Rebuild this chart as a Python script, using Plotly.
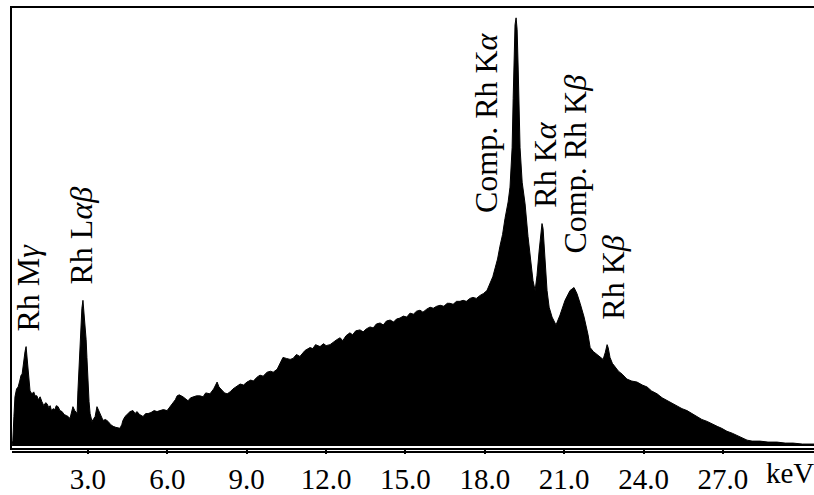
import plotly.graph_objects as go

# Energy (keV) and counts (arbitrary units)
energy_kev = [
    0.13, 0.16, 0.20, 0.24, 0.30, 0.36, 0.42, 0.47, 0.51, 0.56, 0.62, 0.66, 0.70, 0.73, 0.77,
    0.81, 0.88, 0.95, 1.00, 1.07, 1.12, 1.19, 1.26, 1.33, 1.40, 1.45, 1.52, 1.57, 1.62, 1.68,
    1.75, 1.80, 1.87, 1.94, 2.02, 2.10, 2.18, 2.25, 2.32, 2.38, 2.43, 2.50, 2.59, 2.62, 2.70,
    2.77, 2.81, 2.85, 2.89, 2.93, 2.96, 3.00, 3.04, 3.08, 3.15, 3.22, 3.27, 3.34, 3.40, 3.46,
    3.52, 3.57, 3.66, 3.76, 3.85, 3.95, 4.05, 4.14, 4.21, 4.28, 4.32, 4.40, 4.50, 4.59, 4.70,
    4.78, 4.85, 4.95, 5.08, 5.18, 5.27, 5.38, 5.50, 5.61, 5.72, 5.85, 5.99, 6.10, 6.21, 6.30,
    6.37, 6.45, 6.59, 6.70, 6.78, 6.88, 6.97, 7.10, 7.23, 7.35, 7.45, 7.61, 7.75, 7.88, 7.95,
    8.07, 8.16, 8.26, 8.37, 8.48, 8.60, 8.75, 8.88, 9.01, 9.15, 9.25, 9.39, 9.50, 9.62, 9.77,
    9.90, 10.00, 10.15, 10.25, 10.37, 10.50, 10.64, 10.75, 10.88, 11.01, 11.10, 11.20, 11.39, 11.50, 11.60,
    11.77, 11.90, 12.00, 12.15, 12.28, 12.40, 12.53, 12.63, 12.75, 12.90, 13.00, 13.12, 13.28, 13.40, 13.52,
    13.66, 13.78, 13.90, 14.04, 14.16, 14.28, 14.42, 14.55, 14.66, 14.79, 14.92, 15.05, 15.17, 15.30, 15.42,
    15.55, 15.66, 15.80, 15.93, 16.05, 16.18, 16.31, 16.45, 16.58, 16.68, 16.80, 16.93, 17.06, 17.18, 17.30,
    17.44, 17.55, 17.68, 17.82, 17.95, 18.08, 18.20, 18.30, 18.39, 18.48, 18.57, 18.67, 18.76, 18.88, 18.95,
    19.03, 19.07, 19.10, 19.14, 19.18, 19.22, 19.26, 19.29, 19.33, 19.41, 19.52, 19.63, 19.71, 19.82, 19.90,
    19.97, 20.05, 20.12, 20.16, 20.20, 20.28, 20.35, 20.43, 20.54, 20.69, 20.84, 21.03, 21.22, 21.37, 21.48,
    21.60, 21.75, 21.90, 21.98, 22.10, 22.24, 22.35, 22.47, 22.55, 22.62, 22.66, 22.73, 22.82, 22.92, 23.05,
    23.19, 23.28, 23.37, 23.55, 23.75, 23.95, 24.13, 24.30, 24.51, 24.70, 24.89, 25.05, 25.26, 25.45, 25.64,
    25.82, 26.02, 26.20, 26.40, 26.60, 26.78, 26.95, 27.15, 27.35, 27.53, 27.70, 27.91, 28.10, 28.40, 28.70,
    29.04, 29.35, 29.65, 30.00, 30.29, 30.44,
]
counts = [
    0, 6, 30, 50, 58, 60, 66, 72, 73, 85, 96, 101, 88, 73, 62,
    56, 53, 55, 51, 51, 47, 50, 45, 41, 44, 43, 39, 41, 36, 38,
    37, 41, 40, 36, 35, 32, 31, 30, 28, 35, 40, 36, 33, 56, 106,
    140, 148, 135, 126, 108, 90, 63, 45, 33, 25, 28, 30, 40, 36, 33,
    29, 26, 27, 25, 22, 20, 19, 18, 18, 22, 26, 30, 33, 35, 36,
    33, 35, 32, 30, 33, 33, 34, 36, 35, 36, 37, 36, 40, 43, 47,
    51, 52, 50, 48, 46, 49, 50, 51, 51, 50, 54, 53, 58, 65, 60,
    56, 54, 53, 55, 58, 60, 63, 62, 65, 67, 66, 70, 72, 71, 75,
    76, 75, 78, 83, 90, 89, 88, 89, 93, 91, 94, 97, 100, 99, 103,
    101, 104, 102, 103, 106, 108, 110, 107, 112, 115, 113, 117, 118, 116, 119,
    121, 120, 124, 125, 123, 127, 128, 126, 129, 130, 132, 131, 135, 134, 137,
    138, 136, 139, 141, 140, 142, 143, 142, 145, 145, 144, 147, 147, 148, 147,
    150, 151, 150, 153, 155, 158, 166, 172, 181, 190, 203, 215, 231, 248, 263,
    303, 353, 403, 428, 435, 423, 383, 343, 303, 268, 246, 213, 196, 168, 158,
    173, 198, 221, 226, 221, 190, 158, 141, 131, 123, 133, 148, 158, 161, 155,
    145, 131, 113, 100, 96, 93, 91, 88, 95, 103, 100, 90, 84, 80, 76,
    73, 70, 68, 66, 65, 62, 60, 56, 53, 49, 46, 44, 41, 38, 36,
    33, 30, 27, 25, 22, 20, 18, 15, 13, 11, 9, 6, 5, 5, 4,
    4, 3, 3, 2, 2, 2,
]

tick_values = [3.0, 6.0, 9.0, 12.0, 15.0, 18.0, 21.0, 24.0, 27.0]
tick_labels = ["3.0", "6.0", "9.0", "12.0", "15.0", "18.0", "21.0", "24.0", "27.0"]

peak_labels = ["Rh M<i>γ</i>", "Rh L<i>αβ</i>", "Comp. Rh K<i>α</i>",
               "Rh K<i>α</i>", "Comp. Rh K<i>β</i>", "Rh K<i>β</i>"]
peak_energy = [0.73, 2.74, 18.04, 20.24, 21.37, 22.84]
label_center = [161, 214, 329, 286, 286, 171]

SERIF = "'Liberation Serif', 'Times New Roman', serif"

fig = go.Figure()
fig.add_trace(go.Scatter(
    x=energy_kev, y=counts, mode="lines",
    line=dict(color="black", width=1),
    fill="tozeroy", fillcolor="black",
    hoverinfo="skip", showlegend=False,
))

annotations = []
for txt, xe, yc in zip(peak_labels, peak_energy, label_center):
    annotations.append(dict(
        x=xe, y=yc, xref="x", yref="y", text=txt, textangle=-90,
        showarrow=False, xanchor="center", yanchor="middle",
        font=dict(family=SERIF, size=32, color="black"),
    ))
annotations.append(dict(
    x=0.970, y=-0.056, xref="paper", yref="paper", text="keV",
    showarrow=False, xanchor="center", yanchor="middle",
    font=dict(family=SERIF, size=29, color="black"),
))

fig.update_layout(
    width=814, height=495,
    margin=dict(l=12, r=0, t=8, b=40),
    paper_bgcolor="white", plot_bgcolor="white",
    annotations=annotations,
    shapes=[dict(type="line", xref="paper", yref="paper", x0=0, x1=1,
                 y0=-0.009, y1=-0.009, line=dict(color="black", width=2))],
    xaxis=dict(
        range=[0.128, 30.44], showgrid=False, zeroline=False,
        showline=True, linecolor="black", linewidth=2, mirror=True,
        tickmode="array", tickvals=tick_values, ticktext=tick_labels,
        ticks="outside", ticklen=4, tickwidth=1.5, tickcolor="black",
        tickfont=dict(family=SERIF, size=29, color="black"),
    ),
    yaxis=dict(
        range=[-2, 445], showgrid=False, zeroline=False,
        showline=True, linecolor="black", linewidth=2, mirror=False,
        showticklabels=False, ticks="",
    ),
)

fig.write_html("out.html")
